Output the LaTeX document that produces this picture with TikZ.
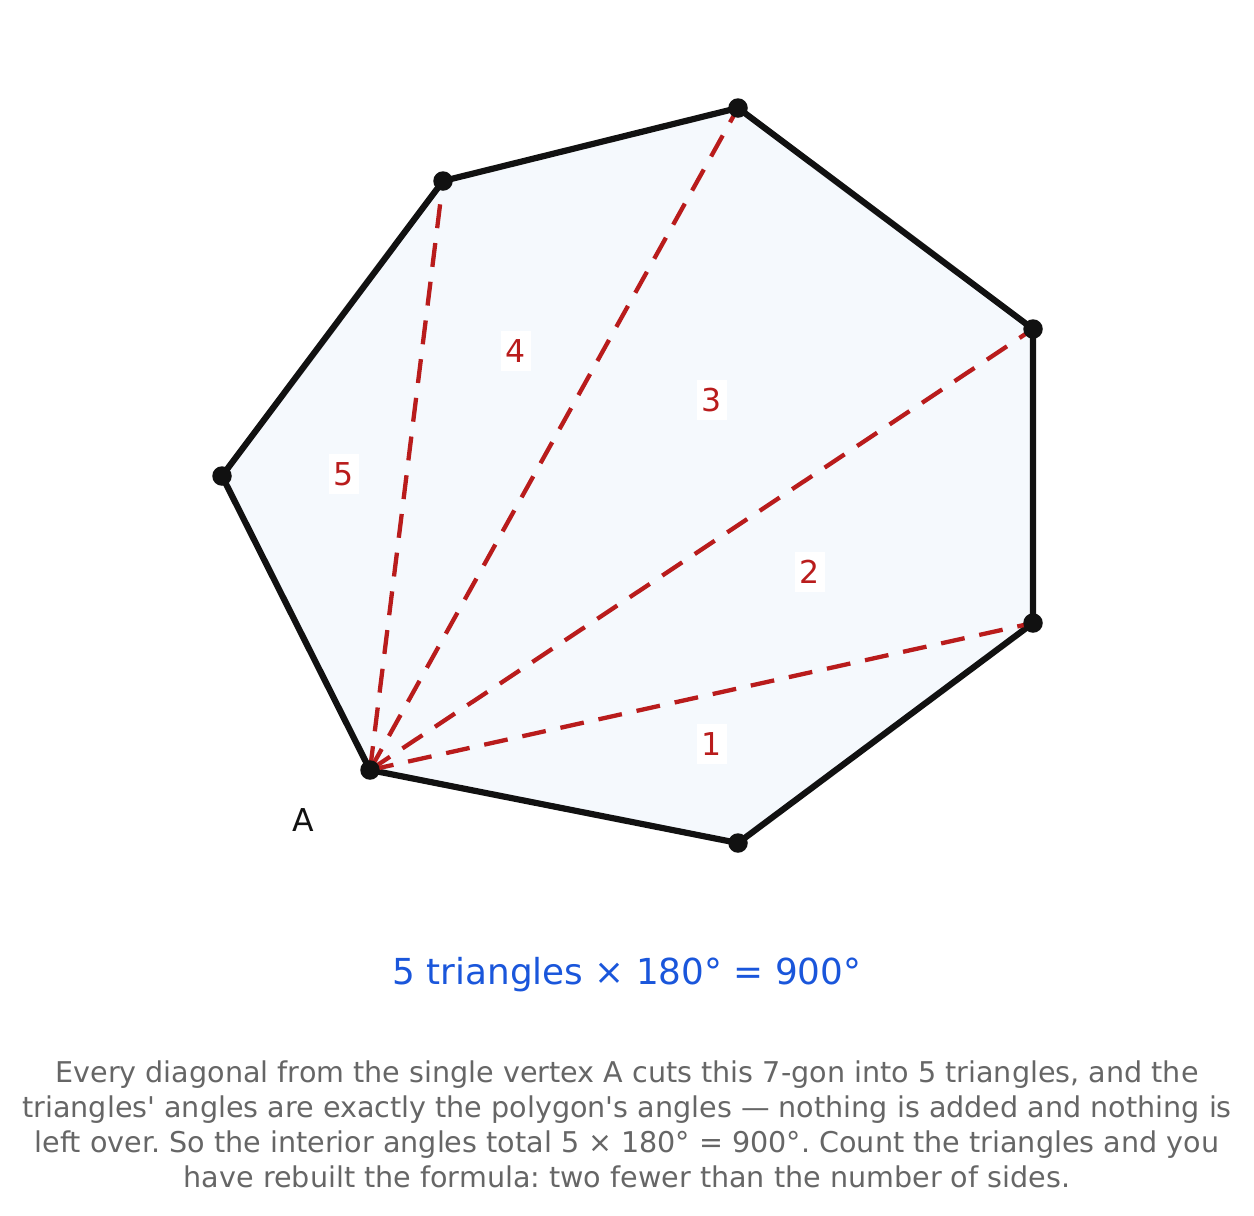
\documentclass[tikz,border=0pt]{standalone}
\usepackage{fontspec}
\setmainfont{DejaVu Sans}
\definecolor{diagRed}{RGB}{185,28,28}
\definecolor{faceBlue}{RGB}{245,249,253}
\definecolor{capBlue}{RGB}{26,86,219}
\definecolor{noteGrey}{RGB}{102,102,102}
\definecolor{edgeBlack}{RGB}{17,17,17}
\frenchspacing
\begin{document}
\begin{tikzpicture}[x=1pt, y=-1pt,
    edgeStyle/.style={draw=edgeBlack, line width=6.2pt, line join=round, fill=faceBlue},
    diagStyle/.style={draw=diagRed, line width=4.3pt, dash pattern=on 24pt off 15pt},
    dotStyle/.style={circle, fill=edgeBlack, inner sep=0pt, minimum size=19.5pt},
    numStyle/.style={fill=white, text=diagRed, inner xsep=4.5pt, inner ysep=8.5pt, font=\fontsize{31.5}{31.5}\selectfont}]
    \useasboundingbox (0,0) rectangle (1254,1216);

    \coordinate (v0) at ( 370, 770);
    \coordinate (v1) at ( 738, 843);
    \coordinate (v2) at (1033, 623);
    \coordinate (v3) at (1033, 329);
    \coordinate (v4) at ( 738, 108);
    \coordinate (v5) at ( 443, 181);
    \coordinate (v6) at ( 222, 476);

    \draw[edgeStyle] (v0) -- (v1) -- (v2) -- (v3) -- (v4) -- (v5) -- (v6) -- cycle;

    \draw[diagStyle] (v0) -- (v2);
    \draw[diagStyle] (v0) -- (v3);
    \draw[diagStyle] (v0) -- (v4);
    \draw[diagStyle] (v0) -- (v5);

    \foreach \i in {0,...,6}
        \node[dotStyle] (dot_\i) at (v\i) {};

    \node[numStyle] (tri_1) at (712, 744) {1};
    \node[numStyle] (tri_2) at (810, 572) {2};
    \node[numStyle] (tri_3) at (712, 400) {3};
    \node[numStyle] (tri_4) at (516, 351) {4};
    \node[numStyle] (tri_5) at (344, 474) {5};

    \node[text=edgeBlack, font=\fontsize{31.5}{31.5}\selectfont] (lblA) at (303, 820) {A};

    \node[text=capBlue, font=\fontsize{35.8}{35.8}\selectfont] (caption) at (627, 975) {5 triangles × 180° = 900°};

    \node[text=noteGrey, align=center, font=\fontsize{28.6}{35}\selectfont] (note) at (627, 1124)
        {Every diagonal from the single vertex A cuts this 7-gon into 5 triangles, and the\\
         triangles\textquotesingle{} angles are exactly the polygon\textquotesingle{}s angles — nothing is added and nothing is\\
         left over. So the interior angles total 5 × 180° = 900°. Count the triangles and you\\
         have rebuilt the formula: two fewer than the number of sides.};
\end{tikzpicture}
\end{document}
